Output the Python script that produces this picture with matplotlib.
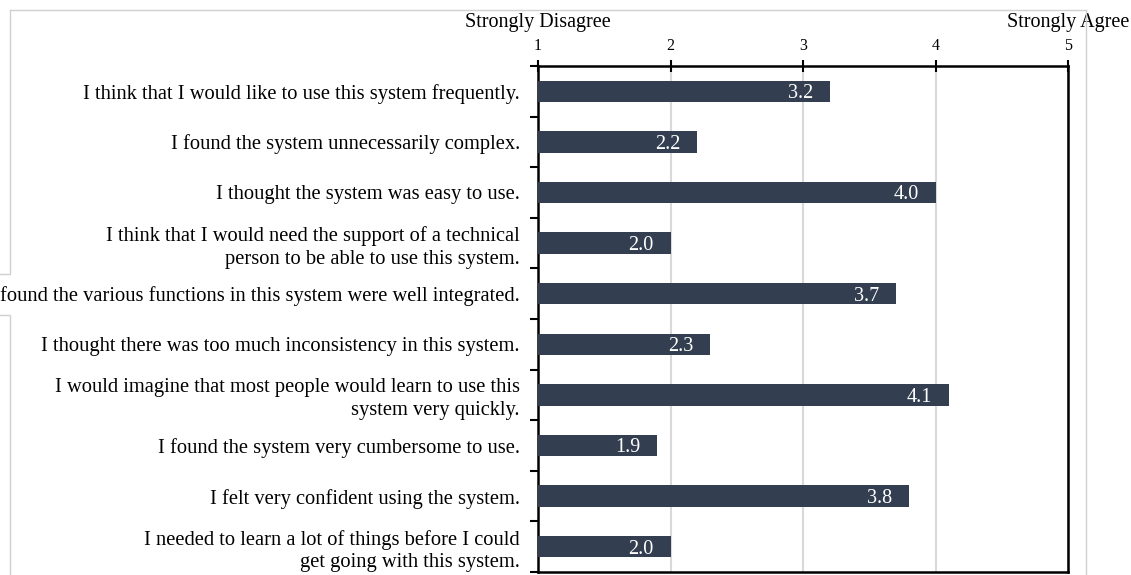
import matplotlib
matplotlib.use("Agg")
import matplotlib.pyplot as plt
from matplotlib.lines import Line2D
from matplotlib.transforms import blended_transform_factory

categories = [
    "I think that I would like to use this system frequently.",
    "I found the system unnecessarily complex.",
    "I thought the system was easy to use.",
    "I think that I would need the support of a technical\nperson to be able to use this system.",
    "I found the various functions in this system were well integrated.",
    "I thought there was too much inconsistency in this system.",
    "I would imagine that most people would learn to use this\nsystem very quickly.",
    "I found the system very cumbersome to use.",
    "I felt very confident using the system.",
    "I needed to learn a lot of things before I could\nget going with this system.",
]
values = [3.2, 2.2, 4.0, 2.0, 3.7, 2.3, 4.1, 1.9, 3.8, 2.0]
xticks = [1, 2, 3, 4, 5]
scale_labels = ["Strongly Disagree", "Strongly Agree"]

plt.rcParams['font.family'] = ['Liberation Serif', 'DejaVu Serif']

W, H = 1131, 575
fig = plt.figure(figsize=(W / 100, H / 100), dpi=100)
ax = fig.add_axes([538 / W, 1 - 572 / H, (1068 - 538) / W, (572 - 66) / H])

bar_color = "#333F50"
ypos = list(range(len(categories)))
base = 1
ax.barh(ypos, [v - base for v in values], left=base, height=0.42,
        color=bar_color, zorder=3)

for y, v in zip(ypos, values):
    ax.annotate(f"{v:.1f}", xy=(v, y), xytext=(-12, 0), textcoords="offset points",
                ha="right", va="center_baseline", color="white", fontsize=14.5, zorder=4)

ax.set_xlim(1, 5)
ax.set_ylim(len(categories) - 0.5, -0.5)

ax.xaxis.tick_top()
ax.set_xticks(xticks)
ax.set_xticklabels([str(t) for t in xticks])
ax.tick_params(axis="x", direction="inout", length=9, width=1.5, labelsize=11.5,
               pad=4, colors="black")
ax.grid(axis="x", color="#d9d9d9", linewidth=1.5, zorder=0)

ax.set_yticks(ypos)
ax.set_yticklabels(categories, fontsize=14.8, linespacing=1.25)
ax.tick_params(axis="y", which="major", length=0, pad=13)
ax.set_yticks([i + 0.5 for i in range(-1, len(categories))], minor=True)
ax.tick_params(axis="y", which="minor", direction="out", length=6, width=1.5)

for s in ax.spines.values():
    s.set_linewidth(1.8)
    s.set_color("black")

tr = blended_transform_factory(ax.transData, fig.transFigure)
ax.text(1, 1 - 22 / H, scale_labels[0], transform=tr, ha="center", va="center",
        fontsize=14.5)
ax.text(5, 1 - 22 / H, scale_labels[1], transform=tr, ha="center", va="center",
        fontsize=14.5)

# faint page frame lines from the screenshot
gc = "#d0d0d0"
def fline(xs, ys):
    fig.add_artist(Line2D([x / W for x in xs], [1 - y / H for y in ys],
                          transform=fig.transFigure, color=gc, lw=1))
fline([10, 1086], [10, 10])
fline([1086, 1086], [10, 575])
fline([10, 10, 0], [10, 274, 274])
fline([0, 10, 10], [315, 315, 575])

fig.savefig("out.png", dpi=100, facecolor="white")
